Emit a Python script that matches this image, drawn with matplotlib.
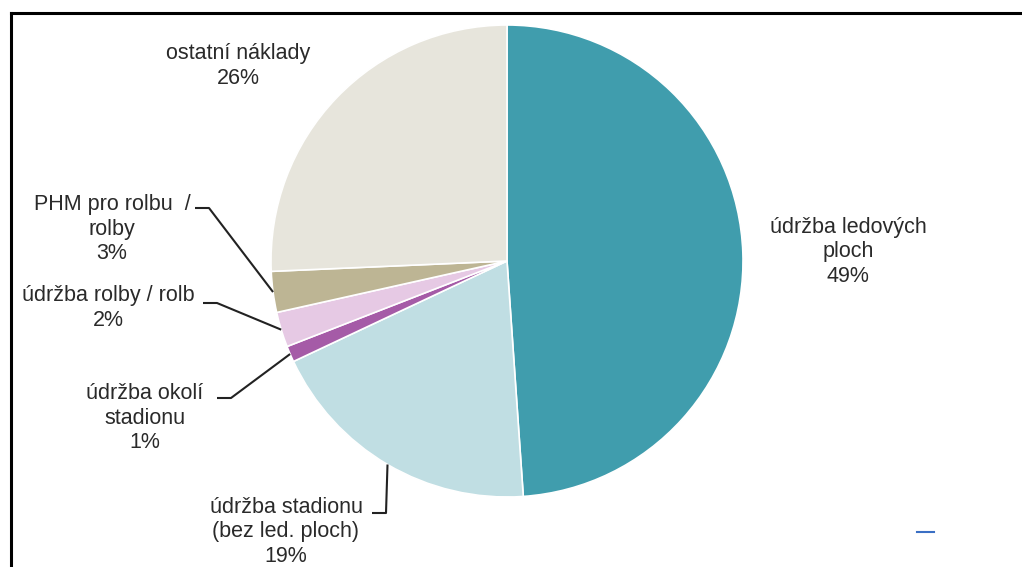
import numpy as np
import matplotlib
matplotlib.use('Agg')
import matplotlib.pyplot as plt

plt.rcParams['font.family'] = ['Liberation Sans', 'DejaVu Sans']

# Cost shares (%), clockwise from the top
categories = ['údržba ledových\nploch',
              'údržba stadionu\n(bez led. ploch)',
              'údržba okolí\nstadionu',
              'údržba rolby / rolb',
              'PHM pro rolbu  /\nrolby',
              'ostatní náklady']
shares = [48.9, 19.1, 1.1, 2.4, 2.8, 25.7]
colors = ['#409dad', '#c0dee3', '#a55ba7', '#e6c9e4', '#bdb594', '#e7e5dc']

# label centre and (optional) start of the leader line, in pixels from top-left
label_pos = [(848, 252), (286, 532), (145, 418), (108, 308), (112, 229), (238, 66)]
leader_start = [None, (372, 513), (217, 398), (203, 303), (195, 208), None]

W, H = 1022, 567
fig = plt.figure(figsize=(W / 100, H / 100), dpi=100)
ax = fig.add_axes([0, 0, 1, 1])

cx, cy, R = 507, H - 261, 236
wedges, _ = ax.pie(shares, colors=colors, startangle=90, counterclock=False,
                   center=(cx, cy), radius=R,
                   wedgeprops=dict(edgecolor='white', linewidth=1.2))

for w, name, v, (lx, ly), start in zip(wedges, categories, shares,
                                       label_pos, leader_start):
    ax.text(lx, H - ly, f'{name}\n{v:.0f}%', ha='center', va='center',
            multialignment='center', fontsize=15.5, color='#2a2a2a',
            linespacing=1.2)
    if start is not None:
        mid = np.deg2rad((w.theta1 + w.theta2) / 2)
        ex, ey = cx + R * np.cos(mid), cy + R * np.sin(mid)
        sx, sy = start[0], H - start[1]
        ax.plot([sx, sx + 14, ex], [sy, sy, ey], color='#222222', lw=1.5,
                solid_capstyle='butt')

# frame around the chart area (cropped on the right and bottom)
ax.plot([11, W], [H - 13, H - 13], color='black', lw=2.2, clip_on=False)
ax.plot([11, 11], [0, H - 13], color='black', lw=2.2, clip_on=False)

# small leftover marker at the bottom right
ax.plot([917, 934], [H - 532, H - 532], color='#3a6fc4', lw=1.5)

ax.set_xlim(0, W)
ax.set_ylim(0, H)
ax.set_aspect('auto')
ax.axis('off')

fig.savefig('out.png', dpi=100, facecolor='white')
